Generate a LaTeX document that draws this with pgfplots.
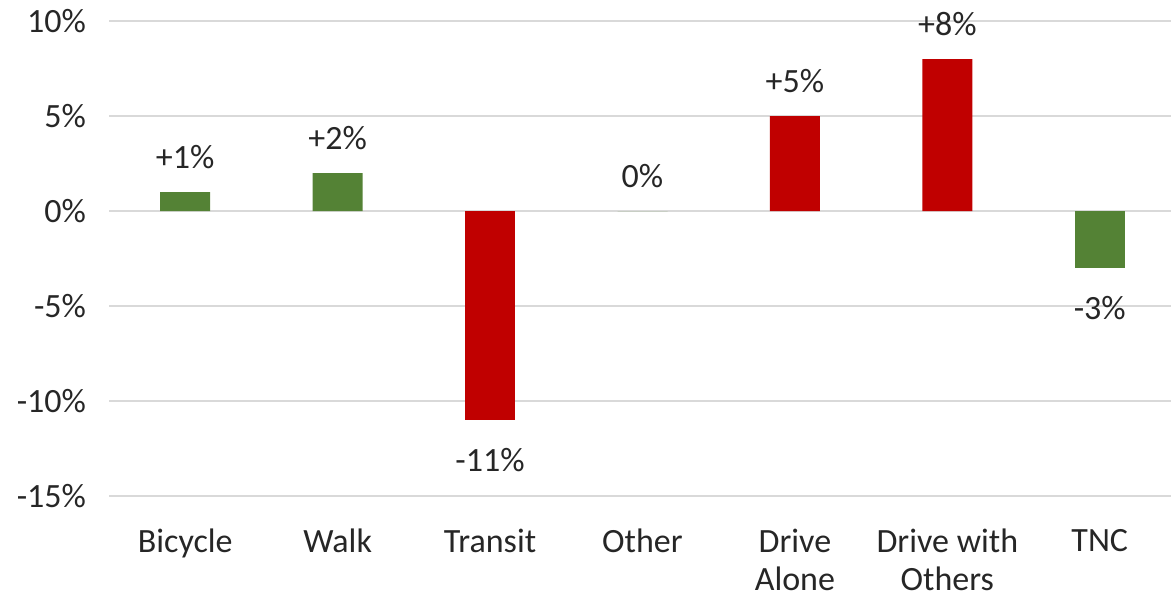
\documentclass[border=0pt]{standalone}
\usepackage{pgfplots}
\pgfplotsset{compat=1.18}
\usepackage{pgfplotstable}
\usepackage{fontspec}
\setmainfont{Carlito}
\definecolor{bargreen}{HTML}{548235}
\definecolor{barred}{HTML}{C00000}
\definecolor{gridgray}{HTML}{D9D9D9}
\definecolor{txt}{HTML}{262626}
\pgfplotstableread{
x y lab
0 1 +1\%
1 2 +2\%
3 0 0\%
}\greenpos
\pgfplotstableread{
x y lab
6 -3 -3\%
}\greenneg
\pgfplotstableread{
x y lab
4 5 +5\%
5 8 +8\%
}\redpos
\pgfplotstableread{
x y lab
2 -11 -11\%
}\redneg
\begin{document}
\begin{tikzpicture}
\begin{axis}[
  scale only axis,
  width=533.5bp, height=237.5bp,
  xmin=-0.5, xmax=6.5,
  ymin=-15, ymax=10,
  axis line style={draw=none},
  major tick length=0pt,
  ymajorgrids, grid style={gridgray, line width=0.8bp},
  ytick={-15,-10,-5,0,5,10},
  yticklabels={-15\%,-10\%,-5\%,0\%,5\%,10\%},
  xtick={0,...,6},
  xticklabels={Bicycle,Walk,Transit,Other,{Drive\\Alone},{Drive with\\Others},TNC},
  xticklabel style={align=center, font=\fontsize{17bp}{19bp}\selectfont, text=txt, yshift=-13bp},
  yticklabel style={font=\fontsize{17bp}{19bp}\selectfont, text=txt, xshift=-8bp},
  ybar, bar width=25bp, bar shift=0pt,
  nodes near coords,
  point meta=explicit symbolic,
  every node near coord/.append style={font=\fontsize{17bp}{19bp}\selectfont, text=txt, inner ysep=11.5bp},
  clip=false,
]
\coordinate (ll) at (rel axis cs:0,0);
\addplot[fill=bargreen, draw=none, every node near coord/.append style={anchor=south}] table[x=x, y=y, meta=lab] {\greenpos};
\addplot[fill=bargreen, draw=none, every node near coord/.append style={anchor=north, yshift=-2.5bp}] table[x=x, y=y, meta=lab] {\greenneg};
\addplot[fill=barred, draw=none, every node near coord/.append style={anchor=south}] table[x=x, y=y, meta=lab] {\redpos};
\addplot[fill=barred, draw=none, every node near coord/.append style={anchor=north, yshift=-2.5bp}] table[x=x, y=y, meta=lab] {\redneg};
\end{axis}
\pgfresetboundingbox
\path ([shift={(-54.5bp,-53bp)}]ll) rectangle ([shift={(531bp,248bp)}]ll);
\end{tikzpicture}
\end{document}
